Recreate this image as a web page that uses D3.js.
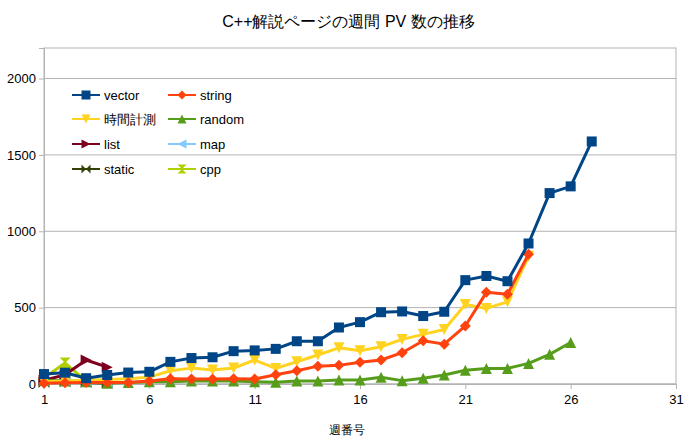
<!DOCTYPE html>
<html>
<head>
<meta charset="utf-8">
<script src="https://cdn.jsdelivr.net/npm/d3@7"></script>
<style>
  body { margin: 0; background: #fff; }
  text { font-family: "Liberation Sans", Arial, sans-serif; }
</style>
</head>
<body>
<script>
// weekly page views per article, week 1 onwards
var weeks = d3.range(1, 28);
var seriesNames = ['vector', 'string', '時間計測', 'random', 'list', 'map', 'static', 'cpp'];
var vector = [65, 74, 38, 59, 75, 80, 145, 170, 175, 215, 220, 230, 280, 280, 370, 405, 470, 475, 445, 473, 680, 707, 673, 920, 1250, 1294, 1588];
var string = [5, 8, 10, 10, 10, 20, 35, 32, 32, 35, 33, 60, 87, 117, 122, 143, 157, 205, 283, 261, 380, 600, 588, 850];
var jikan = [15, 20, 25, 30, 35, 45, 87, 104, 92, 104, 157, 102, 146, 190, 237, 218, 244, 292, 325, 357, 520, 495, 538, 836];
var random = [25, 20, 15, 5, 10, 15, 15, 20, 20, 20, 15, 11, 20, 20, 26, 26, 44, 22, 37, 59, 90, 102, 102, 135, 194, 272];
var list = [25, 60, 157, 110];
var map = [20, 25, 15, 10];
var staticS = [10, 15, 10, 5];
var cpp = [40, 137, 20, 15];
var xTicks = [1, 6, 11, 16, 21, 26, 31];
var yTicks = [0, 500, 1000, 1500, 2000];

var colors = ['#004586', '#ff420e', '#ffd320', '#579d1c', '#7e0021', '#83caff', '#314004', '#aecf00'];
var shapes = ['square', 'diamond', 'down', 'up', 'right', 'left', 'bowtie', 'hourglass'];
var values = [vector, string, jikan, random, list, map, staticS, cpp];

var width = 697, height = 445;
var m = { left: 44, right: 21, top: 48, bottom: 61 };

var svg = d3.select('body').append('svg').attr('width', width).attr('height', height);

var x = d3.scaleLinear().domain([1, 31]).range([m.left, width - m.right]);
var y = d3.scaleLinear().domain([0, 2200]).range([height - m.bottom, m.top]);

var grey = '#b3b3b3';

// grid
svg.selectAll('line.grid')
  .data(yTicks)
  .enter().append('line')
  .attr('x1', m.left).attr('x2', width - m.right)
  .attr('y1', function (d) { return y(d); }).attr('y2', function (d) { return y(d); })
  .attr('stroke', grey).attr('stroke-width', 1);

svg.append('rect')
  .attr('x', m.left).attr('y', m.top)
  .attr('width', width - m.left - m.right).attr('height', height - m.top - m.bottom)
  .attr('fill', 'none').attr('stroke', grey);

var xAxis = svg.append('g')
  .attr('transform', 'translate(0,' + (height - m.bottom) + ')')
  .call(d3.axisBottom(x).tickValues(xTicks).tickSize(5).tickPadding(6).tickFormat(d3.format('d')));
var yAxis = svg.append('g')
  .attr('transform', 'translate(' + m.left + ',0)')
  .call(d3.axisLeft(y).tickValues(yTicks).tickSize(5).tickPadding(3).tickFormat(d3.format('d')));

[xAxis, yAxis].forEach(function (g) {
  g.select('.domain').attr('stroke', grey);
  g.selectAll('.tick line').attr('stroke', grey);
  g.selectAll('.tick text').attr('fill', '#000').style('font-size', '13px')
    .style('font-family', '"Liberation Sans", Arial, sans-serif');
});

function markerPath(shape, s) {
  var h = s / 2;
  switch (shape) {
    case 'square': return 'M' + -h + ',' + -h + 'H' + h + 'V' + h + 'H' + -h + 'Z';
    case 'diamond': return 'M0,' + -h + 'L' + h + ',0L0,' + h + 'L' + -h + ',0Z';
    case 'down': return 'M' + -h + ',' + -h + 'H' + h + 'L0,' + h + 'Z';
    case 'up': return 'M' + -h + ',' + h + 'H' + h + 'L0,' + -h + 'Z';
    case 'right': return 'M' + -h + ',' + -h + 'L' + h + ',0L' + -h + ',' + h + 'Z';
    case 'left': return 'M' + h + ',' + -h + 'L' + -h + ',0L' + h + ',' + h + 'Z';
    case 'bowtie': return 'M' + -h + ',' + -h + 'L' + h + ',' + h + 'V' + -h + 'L' + -h + ',' + h + 'Z';
    case 'hourglass': return 'M' + -h + ',' + -h + 'H' + h + 'L' + -h + ',' + h + 'H' + h + 'Z';
  }
}

var line = d3.line()
  .x(function (d, i) { return x(weeks[i]); })
  .y(function (d) { return y(d); });

// draw last series first so vector sits on top
for (var k = values.length - 1; k >= 0; k--) {
  var g = svg.append('g');
  g.append('path')
    .attr('d', line(values[k]))
    .attr('fill', 'none').attr('stroke', colors[k]).attr('stroke-width', 3)
    .attr('stroke-linejoin', 'round');
  g.selectAll('path.mk')
    .data(values[k])
    .enter().append('path')
    .attr('class', 'mk')
    .attr('transform', function (d, i) { return 'translate(' + x(weeks[i]) + ',' + y(d) + ')'; })
    .attr('d', markerPath(shapes[k], shapes[k] === 'square' ? 10 : 11))
    .attr('fill', colors[k]);
}

// legend
var legRows = [95, 119, 144, 169];
var legCols = [72, 168];
seriesNames.forEach(function (name, i) {
  var lx = legCols[i % 2], ly = legRows[Math.floor(i / 2)];
  var lg = svg.append('g').attr('transform', 'translate(' + lx + ',' + ly + ')');
  lg.append('line').attr('x1', 0).attr('x2', 28).attr('y1', 0).attr('y2', 0)
    .attr('stroke', colors[i]).attr('stroke-width', 2);
  lg.append('path').attr('transform', 'translate(14,0)')
    .attr('d', markerPath(shapes[i], 9)).attr('fill', colors[i]);
  lg.append('text').attr('x', 32).attr('y', 0).attr('dy', '0.35em')
    .style('font-size', '13px').text(name);
});

svg.append('text')
  .attr('x', width / 2).attr('y', 27).attr('text-anchor', 'middle')
  .style('font-size', '16px').text('C++解説ページの週間 PV 数の推移');

svg.append('text')
  .attr('x', 347).attr('y', 434).attr('text-anchor', 'middle')
  .style('font-size', '12px').text('週番号');
</script>
</body>
</html>
